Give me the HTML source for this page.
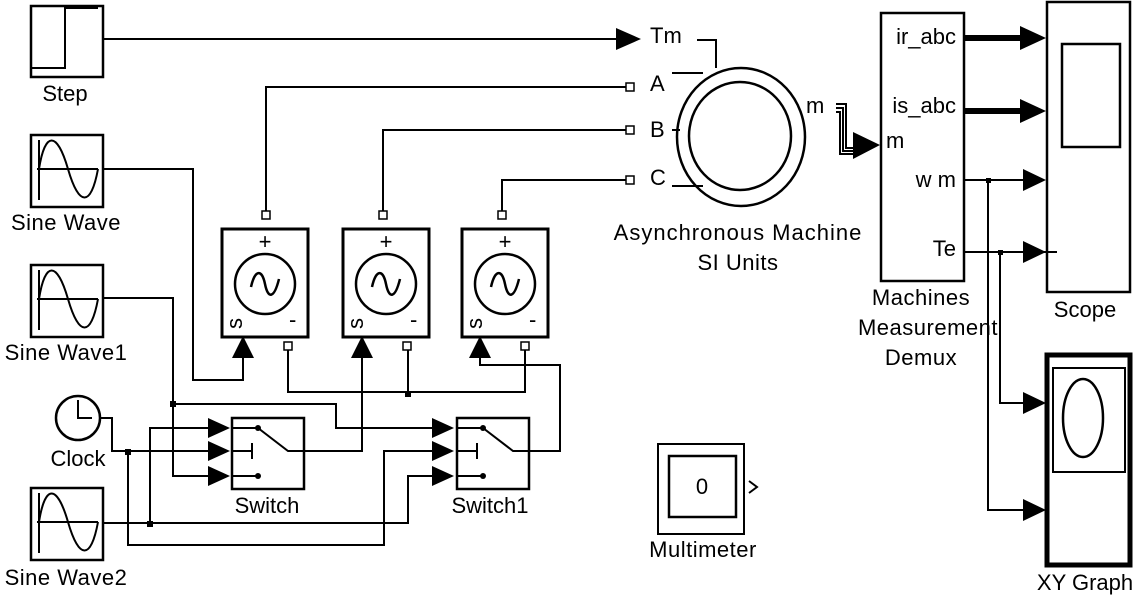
<!DOCTYPE html>
<html><head><meta charset="utf-8"><style>
html,body{margin:0;padding:0;background:#fff}
svg{display:block}
text{font-family:"Liberation Sans",sans-serif;font-size:22px;fill:#000}
</style></head><body>
<svg width="1137" height="596" viewBox="0 0 1137 596" xmlns="http://www.w3.org/2000/svg">
<defs>
<g id="sine"><rect x="0" y="0" width="72" height="72" fill="none" stroke="#000" stroke-width="2.5"/>
<path d="M8 5 V65 M6 34 H67" stroke="#000" stroke-width="2" fill="none"/>
<path d="M8 34 C14 -4 26 -4 37 34 S60 72 67 34" stroke="#000" stroke-width="2" fill="none"/></g>
<g id="src"><rect x="0" y="0" width="86" height="108" fill="none" stroke="#000" stroke-width="3"/>
<text x="43" y="20" text-anchor="middle" font-size="17">+</text>
<circle cx="43" cy="55" r="30" fill="none" stroke="#000" stroke-width="2.5"/>
<path d="M29 58 C33 40 40 40 43 55 S52 70 57 50" fill="none" stroke="#000" stroke-width="2.5"/>
<text x="0" y="0" font-size="16" transform="translate(20,100) rotate(-90)">s</text>
<text x="67" y="98" font-size="16">-</text></g>
<g id="sw"><rect x="0" y="0" width="72" height="71" fill="none" stroke="#000" stroke-width="2.5"/>
<path d="M0 10 H26 L56 33 H72 M0 33 H20 M20 25 V41 M0 58 H26" stroke="#000" stroke-width="2" fill="none"/>
<circle cx="26" cy="10" r="3"/><circle cx="26" cy="58" r="3"/></g>
<g id="tri"><path d="M0 -10 L22 0 L0 10z"/></g>
</defs>
<g stroke="#000" stroke-width="2" fill="none">
<rect x="31" y="6" width="72" height="71" stroke-width="2.5"/>
<path d="M31 68 H65 V8 H98" />
<path d="M103 39 H618"/>
<path d="M266 212 V87 H626"/>
<path d="M383 212 V130 H626"/>
<path d="M502 212 V180 H626"/>
<path d="M103 169 H193 V380 H243 V358"/>
<path d="M103 298 H173 V476 H208"/>
<path d="M173 404 H336 V428 H432"/>
<path d="M100 418 H112 V451 H208"/>
<path d="M128 451 V545 H384 V451 H432"/>
<path d="M103 523 H408 V476 H432"/>
<path d="M150 523 V428 H208"/>
<path d="M304 451 H362 V358"/>
<path d="M528 451 H560 V365 H480 V358"/>
<path d="M288 350 V392 H525 V350 M408 350 V392"/>
<path d="M697 40 H716 V68 M672 73 H703 M672 130 H680 M672 186 H703"/>
<ellipse cx="741" cy="137" rx="64" ry="69" stroke-width="2.5"/>
<ellipse cx="740" cy="136" rx="51" ry="54" stroke-width="2.5"/>
<path d="M836 104 H846 V148 H856 M836 108 H843 V151 H856 M836 112 H840 V154 H856"/>
<rect x="881" y="13" width="83" height="268" stroke-width="2.5"/>
<path d="M964 38 H1022" stroke-width="6"/>
<path d="M964 111 H1022" stroke-width="6"/>
<path d="M964 180 H1024 M964 252 H1057"/>
<path d="M988 180 V510 H1024 M1000 252 V403 H1024"/>
<rect x="1047" y="2" width="83" height="290" stroke-width="2.5"/>
<rect x="1062" y="44" width="58" height="103" stroke-width="2.5"/>
<rect x="1047" y="355" width="83" height="210" stroke-width="5"/>
<rect x="1053" y="368" width="72" height="104" stroke-width="2"/>
<ellipse cx="1083" cy="418" rx="20" ry="39" stroke-width="2.5"/>
<rect x="658" y="444" width="86" height="90"/>
<rect x="669" y="456" width="67" height="61" stroke-width="2.5"/>
<path d="M749 481 L757 487 L749 493"/>
<circle cx="78" cy="418" r="22" stroke-width="2.5"/>
<path d="M78 400 V418 H92"/>
</g>
<g fill="#fff" stroke="#000" stroke-width="1.5">
<rect x="262" y="211" width="8" height="8"/><rect x="379" y="211" width="8" height="8"/><rect x="498" y="211" width="8" height="8"/>
<rect x="284" y="342" width="8" height="8"/><rect x="403" y="342" width="8" height="8"/><rect x="521" y="342" width="8" height="8"/>
<rect x="626" y="83" width="8" height="8"/><rect x="626" y="126" width="8" height="8"/><rect x="626" y="176" width="8" height="8"/>
</g>
<rect x="170" y="401" width="6" height="6"/><rect x="125" y="449" width="6" height="6"/><rect x="147" y="521" width="6" height="6"/>
<rect x="405" y="391" width="6" height="6"/><rect x="986" y="178" width="5" height="5"/><rect x="998" y="250" width="5" height="5"/>
<use href="#sine" x="31" y="135"/><use href="#sine" x="31" y="265"/><use href="#sine" x="31" y="488"/>
<use href="#src" x="222" y="229"/><use href="#src" x="343" y="229"/><use href="#src" x="462" y="229"/>
<use href="#sw" x="232" y="418"/><use href="#sw" x="457" y="418"/>
<path d="M616 28 L641 39 L616 50z"/>
<path d="M232 358 L243 336 L254 358z"/><path d="M351 358 L362 336 L373 358z"/><path d="M469 358 L480 336 L491 358z"/>
<use href="#tri" x="208" y="428"/><use href="#tri" x="208" y="451"/><use href="#tri" x="208" y="476"/>
<use href="#tri" x="432" y="428"/><use href="#tri" x="432" y="451"/><use href="#tri" x="432" y="476"/>
<path d="M853 132 L880 145 L853 159z"/>
<path d="M1020 26 L1046 38 L1020 50z"/><path d="M1020 99 L1046 111 L1020 123z"/>
<path d="M1023 169 L1046 180 L1023 191z"/><path d="M1023 241 L1046 252 L1023 263z"/>
<path d="M1023 392 L1046 403 L1023 414z"/><path d="M1023 499 L1046 510 L1023 521z"/>
<text x="65" y="101" text-anchor="middle">Step</text>
<text x="66" y="230" text-anchor="middle" letter-spacing="0.5">Sine Wave</text>
<text x="66" y="360" text-anchor="middle" letter-spacing="0.5">Sine Wave1</text>
<text x="78" y="466" text-anchor="middle">Clock</text>
<text x="66" y="585" text-anchor="middle" letter-spacing="0.5">Sine Wave2</text>
<text x="267" y="513" text-anchor="middle">Switch</text>
<text x="490" y="513" text-anchor="middle">Switch1</text>
<text x="650" y="43" font-size="20">Tm</text>
<text x="650" y="91" font-size="20">A</text>
<text x="650" y="137" font-size="20">B</text>
<text x="650" y="185" font-size="20">C</text>
<text x="738" y="240" text-anchor="middle" letter-spacing="1">Asynchronous Machine</text>
<text x="738" y="270" text-anchor="middle" letter-spacing="0.5">SI Units</text>
<text x="806" y="113" font-size="20">m</text>
<text x="886" y="148" font-size="20">m</text>
<text x="956" y="44" text-anchor="end" font-size="20">ir_abc</text>
<text x="956" y="113" text-anchor="end" font-size="20">is_abc</text>
<text x="956" y="187" text-anchor="end" font-size="20">w m</text>
<text x="956" y="256" text-anchor="end" font-size="20">Te</text>
<text x="921" y="305" text-anchor="middle" letter-spacing="0.5">Machines</text>
<text x="928" y="335" text-anchor="middle" letter-spacing="0.5">Measurement</text>
<text x="921" y="365" text-anchor="middle" letter-spacing="0.5">Demux</text>
<text x="1085" y="317" text-anchor="middle">Scope</text>
<text x="1085" y="590" text-anchor="middle">XY Graph</text>
<text x="702" y="494" text-anchor="middle" font-size="20">0</text>
<text x="703" y="557" text-anchor="middle" letter-spacing="0.5">Multimeter</text>
</svg>
</body></html>
